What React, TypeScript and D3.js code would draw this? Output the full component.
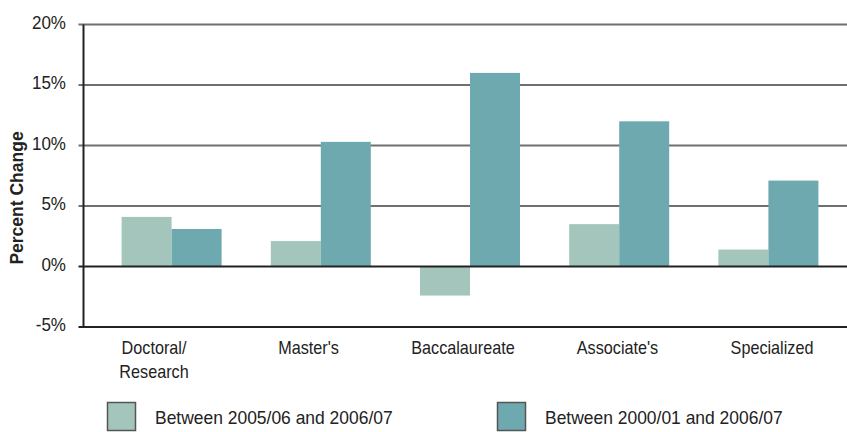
import React, { useEffect, useRef } from 'react';
import * as d3 from 'd3';

const categories = ['Doctoral/\nResearch', "Master's", 'Baccalaureate', "Associate's", 'Specialized'];
const seriesNames = ['Between 2005/06 and 2006/07', 'Between 2000/01 and 2006/07'];
const recentChange = [4.1, 2.1, -2.4, 3.5, 1.4];
const longChange = [3.1, 10.3, 16.0, 12.0, 7.1];
const yTicks = [-5, 0, 5, 10, 15, 20];
const colors = ['#a3c5bb', '#6fa9b0'];

const FONT = "'Liberation Sans', Arial, sans-serif";

const App: React.FC = () => {
  const svgRef = useRef<SVGSVGElement>(null);

  useEffect(() => {
    if (!svgRef.current) return;
    const width = 847;
    const height = 432;
    const axisX = 83.5;

    const svg = d3.select(svgRef.current);
    svg.selectAll('*').remove();

    const y = d3.scaleLinear().domain([-5, 20]).range([327, 24.5]);
    const x0 = d3.scaleBand<string>().domain(categories).range([97, 843]);
    const x1 = d3.scaleBand<number>().domain([0, 1]).range([0, 100]);
    // labels sit a bit left of the bar groups in the original
    const xLabel = d3.scalePoint<string>().domain(categories).range([154, 772]);

    // grid lines
    svg.append('g')
      .selectAll('line')
      .data(yTicks.filter(t => t !== 0 && t !== -5))
      .enter().append('line')
      .attr('x1', axisX - 5)
      .attr('x2', width)
      .attr('y1', d => y(d))
      .attr('y2', d => y(d))
      .attr('stroke', '#707070')
      .attr('stroke-width', 2);

    // bars
    const data = categories.map((c, i) => ({ c, vals: [recentChange[i], longChange[i]] }));
    const groups = svg.append('g')
      .selectAll('g')
      .data(data)
      .enter().append('g')
      .attr('transform', d => `translate(${x0(d.c)! + x0.bandwidth() / 2 - 50},0)`);

    groups.selectAll('rect')
      .data(d => d.vals.map((v, k) => ({ v, k })))
      .enter().append('rect')
      .attr('x', d => x1(d.k)!)
      .attr('width', x1.bandwidth())
      .attr('y', d => y(Math.max(0, d.v)))
      .attr('height', d => Math.abs(y(d.v) - y(0)))
      .attr('fill', d => colors[d.k]);

    // zero line and bottom axis
    [0, -5].forEach(t => {
      svg.append('line')
        .attr('x1', axisX - 5)
        .attr('x2', width)
        .attr('y1', y(t))
        .attr('y2', y(t))
        .attr('stroke', '#222')
        .attr('stroke-width', 2);
    });

    // y axis line
    svg.append('line')
      .attr('x1', axisX)
      .attr('x2', axisX)
      .attr('y1', y(20))
      .attr('y2', y(-5) + 1)
      .attr('stroke', '#222')
      .attr('stroke-width', 2);

    // tick labels
    svg.append('g')
      .selectAll('text')
      .data(yTicks)
      .enter().append('text')
      .attr('transform', d => `translate(66,${y(d) + 4}) scale(0.92,1)`)
      .attr('text-anchor', 'end')
      .style('font-family', FONT)
      .style('font-size', '18.5px')
      .attr('fill', '#222')
      .text(d => `${d}%`);

    // y label
    svg.append('text')
      .attr('transform', `translate(23,198) rotate(-90)`)
      .attr('text-anchor', 'middle')
      .style('font-family', FONT)
      .style('font-size', '17.5px')
      .style('font-weight', 'bold')
      .attr('fill', '#222')
      .text('Percent Change');

    // category labels
    const cat = svg.append('g')
      .selectAll('text')
      .data(categories)
      .enter().append('text')
      .attr('transform', d => `translate(${xLabel(d)},354) scale(0.9,1)`)
      .attr('text-anchor', 'middle')
      .style('font-family', FONT)
      .style('font-size', '18px')
      .attr('fill', '#222');
    cat.each(function (d) {
      const lines = d.split('\n');
      lines.forEach((l, i) => {
        d3.select(this).append('tspan')
          .attr('x', 0)
          .attr('dy', i === 0 ? 0 : 24)
          .text(l);
      });
    });

    // legend
    const legendX = [107, 497];
    seriesNames.forEach((name, i) => {
      svg.append('rect')
        .attr('x', legendX[i] + 0.5)
        .attr('y', 402.5)
        .attr('width', 28)
        .attr('height', 28)
        .attr('fill', colors[i])
        .attr('stroke', '#555')
        .attr('stroke-width', 1.5);
      svg.append('text')
        .attr('transform', `translate(${legendX[i] + 48},424) scale(0.97,1)`)
        .style('font-family', FONT)
        .style('font-size', '18px')
        .attr('fill', '#222')
        .text(name);
    });

    svg.attr('width', width).attr('height', height);
  }, []);

  return (
    <svg ref={svgRef} width={847} height={432} style={{ position: 'absolute', left: 0, top: 0, background: '#fff' }} />
  );
};

export default App;
